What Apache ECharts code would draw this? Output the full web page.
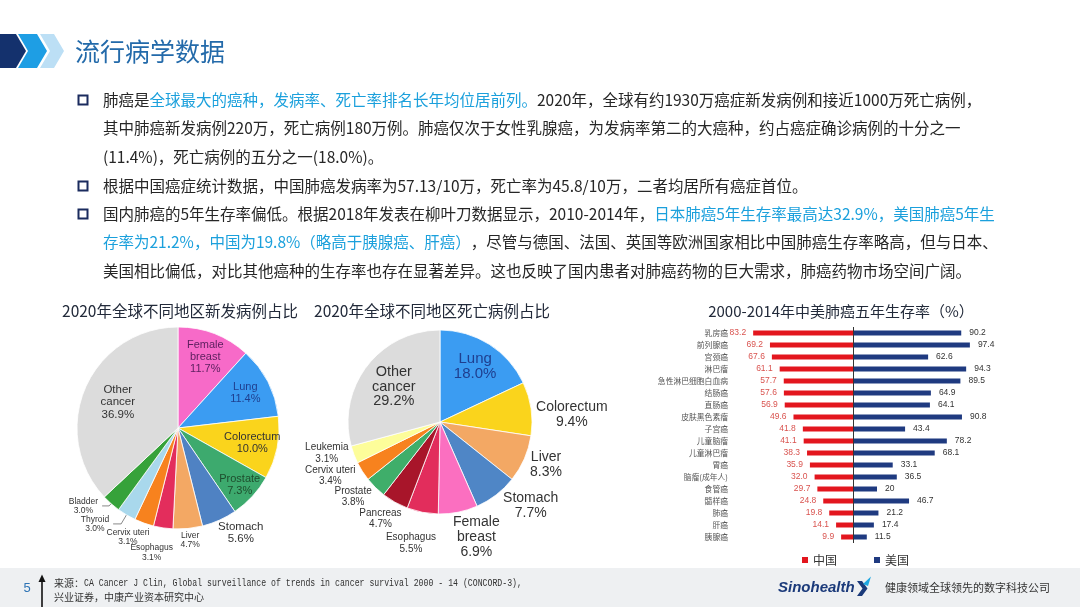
<!DOCTYPE html>
<html><head><meta charset="utf-8">
<script src="https://cdn.jsdelivr.net/npm/echarts@6/dist/echarts.min.js"></script>
<style>html,body{margin:0;padding:0;background:#fff}#c{width:1080px;height:607px}</style>
</head><body><div id="c"></div>
<script>
// ---------- data ----------
const incidenceNames = ['Female\nbreast','Lung','Colorectum','Prostate','Stomach','Liver','Esophagus','Cervix uteri','Thyroid','Bladder','Other\ncancer'];
const incidenceValues = [11.7,11.4,10.0,7.3,5.6,4.7,3.1,3.1,3.0,3.0,36.9];
const mortalityNames = ['Lung','Colorectum','Liver','Stomach','Female\nbreast','Esophagus','Pancreas','Prostate','Cervix uteri','Leukemia','Other\ncancer'];
const mortalityValues = [18.0,9.4,8.3,7.7,6.9,5.5,4.7,3.8,3.4,3.1,29.2];
const survivalCategories = ['乳房癌','前列腺癌','宫颈癌','淋巴瘤','急性淋巴细胞白血病','结肠癌','直肠癌','皮肤黑色素瘤','子宫癌','儿童脑瘤','儿童淋巴瘤','胃癌','脑瘤(成年人)','食管癌','髓样癌','肺癌','肝癌','胰腺癌'];
const chinaSurvival = [83.2,69.2,67.6,61.1,57.7,57.6,56.9,49.6,41.8,41.1,38.3,35.9,32.0,29.7,24.8,19.8,14.1,9.9];
const usSurvival = [90.2,97.4,62.6,94.3,89.5,64.9,64.1,90.8,43.4,78.2,68.1,33.1,36.5,20,46.7,21.2,17.4,11.5];
const seriesNames = ['中国','美国'];

// ---------- styles ----------
const incidenceColors = ['#f76ac8','#3b9cf2','#fad41c','#3daa6e','#4f82c3','#f3a864','#e32d5c','#f7821e','#a9d8ec','#36a23a','#dcdcdc'];
const mortalityColors = ['#3b9cf2','#fad41c','#f3a864','#4f86c6','#fb6fc0','#e22d5c','#a8152a','#3fae6a','#f7821e','#fdfd9a','#dcdcdc'];
const SANS = 'Liberation Sans, Arial, sans-serif';
const CJK = 'Noto Sans CJK SC, sans-serif';

// label placement styles per slice: ring = inside an invisible ring [r0,r1] (fractions of R); edge = outside label
const incidenceLabelStyle = [
  {ring:[0.44,1], color:'#5e2160', size:11, lh:12},
  {ring:[0.44,1], color:'#1f3f8f', size:11, lh:12},
  {ring:[0.44,1], color:'#333', size:11, lh:12},
  {ring:[0.6,1], color:'#1e4d2d', size:11, lh:12},
  {edge:{len:14,len2:0,dist:-7,line:false}, color:'#333', size:11.5, lh:12.5},
  {edge:{len:11.5,len2:0,dist:-8.5,line:false}, color:'#333', size:8.5, lh:9.5},
  {edge:{len:25,len2:0,dist:-13.5,line:false}, color:'#333', size:8.5, lh:9.5},
  {edge:{len:15,len2:0,dist:-10.5,line:false}, color:'#333', size:8.5, lh:9.5},
  {edge:{len:10.5,len2:8,dist:4,line:true}, color:'#333', size:8.5, lh:9.5},
  {edge:{len:3,len2:7,dist:4,line:true}, color:'#333', size:8.5, lh:9.5},
  {ring:[0.24,1], color:'#333', size:11.5, lh:12.5}
];
const mortalityLabelStyle = [
  {ring:[0.36,1], color:'#1f3f8f', size:15, lh:15},
  {edge:{len:0,len2:0,dist:5,line:false}, color:'#333', size:14, lh:15, pad:[12,0,0,0]},
  {edge:{len:15,len2:0,dist:-8,line:false}, color:'#333', size:14, lh:15},
  {edge:{len:13,len2:0,dist:-1,line:false}, color:'#333', size:14, lh:15},
  {edge:{len:25,len2:0,dist:-10,line:false}, color:'#333', size:14, lh:15},
  {edge:{len:31.5,len2:0,dist:-19.5,line:false}, color:'#333', size:10, lh:11.5},
  {edge:{len:19,len2:0,dist:-16,line:false}, color:'#333', size:10, lh:11.5},
  {edge:{len:13,len2:0,dist:-5.5,line:false}, color:'#333', size:10, lh:11.5},
  {edge:{len:8,len2:0,dist:0,line:false}, color:'#333', size:10, lh:11.5},
  {edge:{len:0,len2:0,dist:5.5,line:false}, color:'#333', size:10, lh:11.5, pad:[0,0,3,0]},
  {ring:[0.2,1], color:'#333', size:14.5, lh:14.5}
];

function richLabel(p){
  const lines = p.name.split('\n').concat([p.value.toFixed(1) + '%']);
  return lines.map(l => '{c|' + l + '}').join('\n');
}
function labelCfg(s){
  const c = {show:true, formatter:richLabel, color:s.color, fontSize:s.size, fontFamily:SANS, lineHeight:s.lh,
    textBorderWidth:0,
    rich:{c:{align:'center', color:s.color, fontSize:s.size, fontFamily:SANS, lineHeight:s.lh}}};
  if (s.pad) c.padding = s.pad;
  return c;
}
function pieSeries(center, R, names, values, colors, styles){
  const list = [];
  list.push({
    type:'pie', center:center, radius:[0,R], startAngle:90, clockwise:true,
    avoidLabelOverlap:false, silent:true, animation:false,
    labelLayout:{hideOverlap:false},
    itemStyle:{borderColor:'#ffffff', borderWidth:0.8},
    label:{show:false}, labelLine:{show:false},
    data: names.map((n,i)=>{
      const d = {name:n, value:values[i], itemStyle:{color:colors[i]}};
      const s = styles[i];
      if (s.edge){
        d.label = Object.assign(labelCfg(s), {position:'outside', distanceToLabelLine:s.edge.dist});
        d.labelLine = {show:s.edge.line, length:s.edge.len, length2:s.edge.len2, smooth:false,
          lineStyle:{color:'#555', width:0.7}};
      } else {
        d.label = {show:false};
      }
      return d;
    })
  });
  const rings = {};
  styles.forEach((s,i)=>{ if (s.ring){ const k = s.ring.join(','); (rings[k] = rings[k] || []).push(i); } });
  Object.keys(rings).forEach(k=>{
    const fr = k.split(',').map(Number);
    list.push({
      type:'pie', center:center, radius:[fr[0]*R, fr[1]*R], startAngle:90, clockwise:true,
      avoidLabelOverlap:false, silent:true, animation:false, z:5,
      labelLayout:{hideOverlap:false},
      itemStyle:{color:'rgba(0,0,0,0)', borderWidth:0},
      labelLine:{show:false}, emphasis:{disabled:true},
      data: names.map((n,i)=>({
        name:n, value:values[i],
        label: rings[k].indexOf(i) >= 0 ? Object.assign(labelCfg(styles[i]), {position:'inside'}) : {show:false}
      }))
    });
  });
  return list;
}

// ---------- slide graphics ----------
const BODY = 15.5;
const richBody = {
  n:{fontSize:BODY, fontFamily:CJK, fill:'#262626'},
  h:{fontSize:BODY, fontFamily:CJK, fill:'#1ba0dc'}
};
function bodyLine(y, text){
  return {type:'text', x:103, y:y, style:{text:text, rich:richBody, fontSize:BODY, fontFamily:CJK, fill:'#262626', textVerticalAlign:'middle'}};
}
function bullet(y){
  return {type:'rect', shape:{x:78.5, y:y-4.5, width:9, height:9}, style:{fill:'none', stroke:'#1a2b5e', lineWidth:2}};
}
const graphics = [
  // header chevrons
  {type:'polygon', shape:{points:[[0,34],[16,34],[26,51],[16,68],[0,68]]}, style:{fill:'#14316d'}},
  {type:'polygon', shape:{points:[[18,34],[37,34],[47,51],[37,68],[18,68],[28,51]]}, style:{fill:'#1e9ee4'}},
  {type:'polygon', shape:{points:[[40,34],[54,34],[64,51],[54,68],[40,68],[50,51]]}, style:{fill:'#bcdff5'}},
  {type:'text', x:75, y:51, style:{text:'流行病学数据', fontSize:25, fontFamily:CJK, fill:'#236aaa', textVerticalAlign:'middle'}},
  // body
  bullet(100), bullet(186), bullet(214),
  bodyLine(100, '{n|肺癌是}{h|全球最大的癌种，发病率、死亡率排名长年均位居前列。}{n|2020年，全球有约1930万癌症新发病例和接近1000万死亡病例，}'),
  bodyLine(128, '{n|其中肺癌新发病例220万，死亡病例180万例。肺癌仅次于女性乳腺癌，为发病率第二的大癌种，约占癌症确诊病例的十分之一}'),
  bodyLine(157, '{n|(11.4%)，死亡病例的五分之一(18.0%)。}'),
  bodyLine(186, '{n|根据中国癌症统计数据，中国肺癌发病率为57.13/10万，死亡率为45.8/10万，二者均居所有癌症首位。}'),
  bodyLine(214, '{n|国内肺癌的5年生存率偏低。根据2018年发表在柳叶刀数据显示，2010-2014年，}{h|日本肺癌5年生存率最高达32.9%，美国肺癌5年生}'),
  bodyLine(242, '{h|存率为21.2%，中国为19.8%（略高于胰腺癌、肝癌）}{n|，尽管与德国、法国、英国等欧洲国家相比中国肺癌生存率略高，但与日本、}'),
  bodyLine(271, '{n|美国相比偏低，对比其他癌种的生存率也存在显著差异。这也反映了国内患者对肺癌药物的巨大需求，肺癌药物市场空间广阔。}'),
  // chart titles
  {type:'text', x:180, y:311, style:{text:'2020年全球不同地区新发病例占比', fontSize:15.5, fontFamily:CJK, fill:'#222a3a', textAlign:'center', textVerticalAlign:'middle'}},
  {type:'text', x:432, y:311, style:{text:'2020年全球不同地区死亡病例占比', fontSize:15.5, fontFamily:CJK, fill:'#222a3a', textAlign:'center', textVerticalAlign:'middle'}},
  {type:'text', x:841, y:311, style:{text:'2000-2014年中美肺癌五年生存率（%）', fontSize:15, fontFamily:CJK, fill:'#222a3a', textAlign:'center', textVerticalAlign:'middle'}},
  // footer
  {type:'rect', z:-10, shape:{x:0, y:568, width:1080, height:39}, style:{fill:'#eef0f2'}},
  {type:'text', x:27, y:588, style:{text:'5', fontSize:13, fontFamily:SANS, fill:'#2e74b5', textAlign:'center', textVerticalAlign:'middle'}},
  {type:'line', shape:{x1:42, y1:607, x2:42, y2:580}, style:{stroke:'#111', lineWidth:1.6}},
  {type:'polygon', shape:{points:[[38.5,582],[42,574.5],[45.5,582]]}, style:{fill:'#111'}},
  {type:'text', x:54, y:583, style:{text:'来源：', fontSize:10, fontFamily:CJK, fill:'#333', textVerticalAlign:'middle'}},
  {type:'text', x:84, y:583, scaleX:0.82, style:{text:'CA Cancer J Clin, Global surveillance of trends in cancer survival 2000 - 14 (CONCORD-3),', fontSize:10, fontFamily:'Liberation Mono, monospace', fill:'#333', textVerticalAlign:'middle'}},
  {type:'text', x:54, y:597, style:{text:'兴业证券，中康产业资本研究中心', fontSize:10, fontFamily:CJK, fill:'#333', textVerticalAlign:'middle'}},
  {type:'text', x:778, y:588, style:{text:'Sinohealth', fontSize:15, fontStyle:'italic', fontWeight:'bold', fontFamily:SANS, fill:'#1b3a7a', textVerticalAlign:'middle'}},
  {type:'polygon', shape:{points:[[857,581],[862,581],[867.5,588.5],[862,596],[857,596],[862.5,588.5]]}, style:{fill:'#1b3a7a'}},
  {type:'polygon', shape:{points:[[863,584],[871,576.5],[868,586]]}, style:{fill:'#1ea7e1'}},
  {type:'text', x:885, y:588, style:{text:'健康领域全球领先的数字科技公司', fontSize:11, fontFamily:CJK, fill:'#333', textVerticalAlign:'middle'}}
];

// ---------- option ----------
const option = {
  animation:false,
  backgroundColor:'#ffffff',
  graphic: graphics,
  legend:{data:seriesNames, left:797, top:549, icon:'rect', itemWidth:6, itemHeight:6, itemGap:37,
    textStyle:{fontSize:12, fontFamily:CJK, color:'#333'}},
  grid:{left:733, width:240, top:327, height:216, containLabel:false, outerBoundsMode:'none'},
  xAxis:{type:'value', min:-100, max:100, show:false, splitLine:{show:false}},
  yAxis:{type:'category', data:survivalCategories, inverse:true,
    axisLine:{show:false}, axisTick:{show:false}, splitLine:{show:false},
    axisLabel:{fontSize:7.8, color:'#555', fontFamily:CJK, margin:5}},
  series: [
    {type:'bar', name:seriesNames[0], data:chinaSurvival.map(v=>-v), barWidth:5, barGap:'-100%',
      itemStyle:{color:'#e3161e'}, silent:true,
      label:{show:true, position:'left', distance:7, fontSize:8.5, fontFamily:SANS, color:'#d9534f',
        formatter:p=>Math.abs(p.value).toFixed(1)}},
    {type:'bar', name:seriesNames[1], data:usSurvival, barWidth:5, barGap:'-100%',
      itemStyle:{color:'#1f3a80'}, silent:true,
      label:{show:true, position:'right', distance:8, fontSize:8.5, fontFamily:SANS, color:'#333',
        formatter:p=>String(p.value)},
      markLine:{silent:true, symbol:'none', label:{show:false}, animation:false,
        lineStyle:{color:'#333', width:1, type:'solid'}, data:[{xAxis:0}]}}
  ].concat(
    pieSeries([178,428], 101, incidenceNames, incidenceValues, incidenceColors, incidenceLabelStyle),
    pieSeries([440,422], 92, mortalityNames, mortalityValues, mortalityColors, mortalityLabelStyle)
  )
};
const chart = echarts.init(document.getElementById('c'), null, {renderer:'canvas'});
chart.setOption(option);
</script>
</body></html>
